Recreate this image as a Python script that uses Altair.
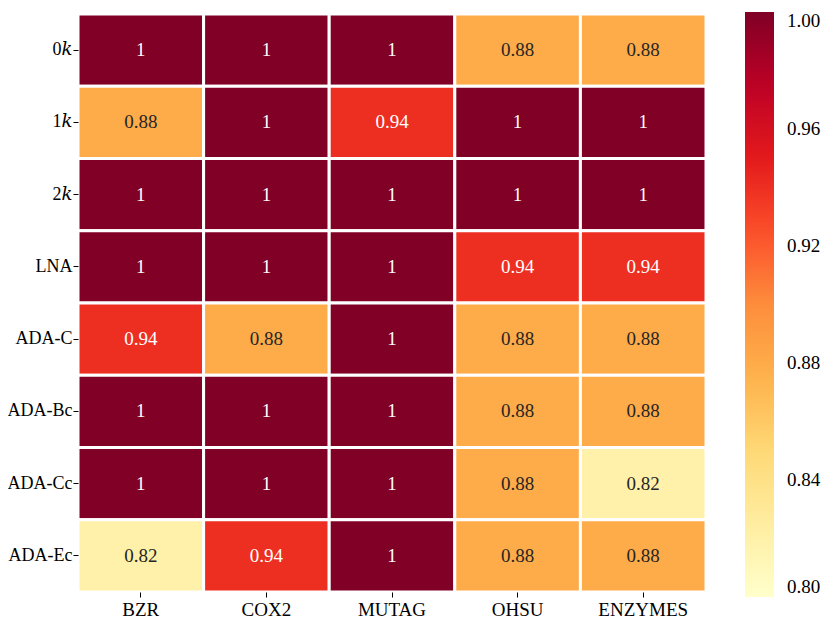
import altair as alt
import pandas as pd

rows = ["0𝑘", "1𝑘", "2𝑘", "LNA", "ADA-C", "ADA-Bc", "ADA-Cc", "ADA-Ec"]
cols = ["BZR", "COX2", "MUTAG", "OHSU", "ENZYMES"]
vals = [
    [1, 1, 1, 0.88, 0.88],
    [0.88, 1, 0.94, 1, 1],
    [1, 1, 1, 1, 1],
    [1, 1, 1, 0.94, 0.94],
    [0.94, 0.88, 1, 0.88, 0.88],
    [1, 1, 1, 0.88, 0.88],
    [1, 1, 1, 0.88, 0.82],
    [0.82, 0.94, 1, 0.88, 0.88],
]
legend_ticks = [0.80, 0.84, 0.88, 0.92, 0.96, 1.00]
# ColorBrewer YlOrRd (9 classes), as in matplotlib's YlOrRd
ylorrd = ["#ffffcc", "#ffeda0", "#fed976", "#feb24c", "#fd8d3c",
          "#fc4e2a", "#e31a1c", "#bd0026", "#800026"]
color_stops = [0.8, 0.825, 0.85, 0.875, 0.9, 0.925, 0.95, 0.975, 1.0]

records = []
for r, rowvals in zip(rows, vals):
    for c, v in zip(cols, rowvals):
        records.append({"row": r, "col": c, "value": v})
df = pd.DataFrame(records)

FONT = "Liberation Serif, Times New Roman, DejaVu Serif, serif"
FS = 19

base = alt.Chart(df).encode(
    x=alt.X("col:N", sort=cols, title=None,
            axis=alt.Axis(labelAngle=0, domain=False, ticks=True, tickSize=5,
                          tickColor="#000", labelColor="#000", labelFontSize=FS,
                          labelFont=FONT, labelPadding=3)),
    y=alt.Y("row:N", sort=rows, title=None,
            axis=alt.Axis(domain=False, ticks=True, tickSize=5, tickColor="#000",
                          labelColor="#000", labelFontSize=18, labelFont=FONT,
                          labelPadding=1)),
)

rects = base.mark_rect(stroke="white", strokeWidth=3).encode(
    color=alt.Color("value:Q",
                    scale=alt.Scale(domain=color_stops, range=ylorrd, interpolate="rgb"),
                    legend=alt.Legend(title=None, orient="none", legendX=667, legendY=-2,
                                      direction="vertical", gradientLength=585,
                                      gradientThickness=29, gradientStrokeWidth=0,
                                      values=legend_ticks, format=".2f",
                                      labelFontSize=FS, labelFont=FONT, labelColor="#000",
                                      labelOffset=13, padding=0, labelBaseline="middle",
                                      labelOverlap=False))
)

texts = base.mark_text(font=FONT, fontSize=FS).encode(
    text=alt.Text("value:Q", format=".2~f"),
    color=alt.condition("datum.value >= 0.9", alt.value("white"), alt.value("#262626")),
)

chart = alt.layer(rects, texts).properties(
    width=628, height=578,
    padding={"left": 70, "top": 6, "right": 116, "bottom": 29},
    autosize=alt.AutoSizeParams(type="none"),
).configure_view(stroke=None).configure_axis(grid=False)

chart.save("out.html", embed_options={"renderer": "svg", "actions": False})
